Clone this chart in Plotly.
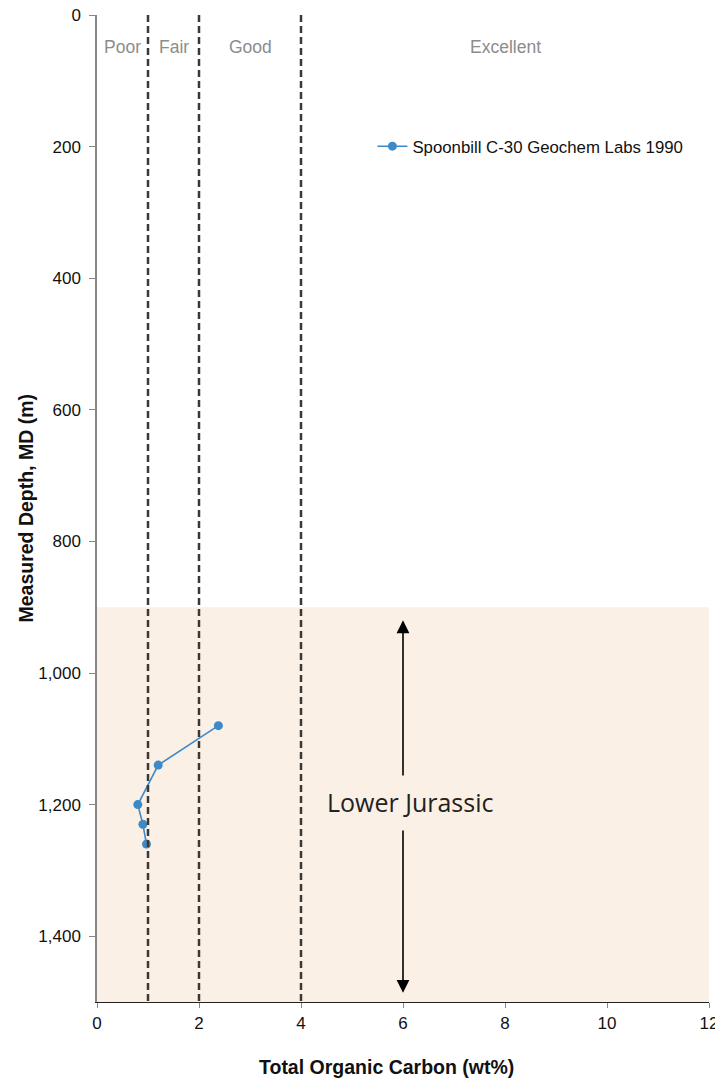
import plotly.graph_objects as go

# TOC samples, Spoonbill C-30 (Geochem Labs 1990)
toc = [2.38, 1.2, 0.8, 0.9, 0.97]
depth = [1080, 1140, 1200, 1230, 1260]

# quality cut-offs and class labels
cutoffs = [1, 2, 4]
class_names = ["Poor", "Fair", "Good", "Excellent"]
class_x = [0.5, 1.5, 3, 8]

zone_top = 900
zone_base = 1500
zone_name = "Lower Jurassic"

fig = go.Figure()

fig.add_shape(type="rect", xref="x", yref="y", x0=0, x1=12, y0=zone_top, y1=zone_base,
              fillcolor="#fbf0e6", line_width=0, layer="below")

for c in cutoffs:
    fig.add_shape(type="line", xref="x", yref="y", x0=c, x1=c, y0=0, y1=1500,
                  line=dict(color="#3c3834", width=2.5, dash="7px,4px"), layer="above")

fig.add_trace(go.Scatter(
    x=toc, y=depth, mode="lines+markers",
    name="Spoonbill C-30 Geochem Labs 1990",
    line=dict(color="#3c8ac8", width=1.6),
    marker=dict(color="#3c8ac8", size=9),
))

for name, cx in zip(class_names, class_x):
    fig.add_annotation(x=cx, y=48, xref="x", yref="y", text=name, showarrow=False,
                       font=dict(family="Liberation Sans", size=17.5, color="#8c8c8c"))

# zone arrow, broken around the label
fig.add_annotation(x=6, y=zone_top + 20, ax=6, ay=1158, xref="x", yref="y", axref="x", ayref="y",
                   text="", showarrow=True, arrowhead=2, arrowsize=1.6, arrowwidth=1.6,
                   arrowcolor="#000000")
fig.add_annotation(x=6, y=zone_base - 14, ax=6, ay=1237, xref="x", yref="y", axref="x", ayref="y",
                   text="", showarrow=True, arrowhead=2, arrowsize=1.6, arrowwidth=1.6,
                   arrowcolor="#000000")
fig.add_annotation(x=6, y=1196, xref="x", yref="y", text=zone_name, showarrow=False,
                   xshift=7, font=dict(family="Open Sans", size=25, color="#222222"))

# axis titles as annotations
fig.add_annotation(x=0.473, y=0, xref="paper", yref="paper", xanchor="center", yanchor="middle",
                   yshift=-65, text="<b>Total Organic Carbon (wt%)</b>", showarrow=False,
                   font=dict(family="Liberation Sans", size=19.5, color="#111111"))
fig.add_annotation(x=-0.1176, y=0.5, xref="paper", yref="paper", xanchor="center",
                   yanchor="middle", textangle=-90,
                   text="<b>Measured Depth, MD (m)</b>", showarrow=False,
                   font=dict(family="Liberation Sans", size=19.5, color="#111111"))

fig.update_xaxes(
    range=[0, 12], dtick=2, showgrid=False, zeroline=False,
    showline=True, linecolor="#222222", linewidth=1.2,
    ticks="outside", ticklen=5, tickcolor="#888888", ticklabeloverflow="allow",
    tickfont=dict(family="Liberation Sans", size=17, color="#111111"),
)
fig.update_yaxes(
    range=[1500, 0], dtick=200, tickformat=",", showgrid=False, zeroline=False,
    showline=True, linecolor="#888888", linewidth=1.5,
    ticks="outside", ticklen=6, tickcolor="#888888", ticklabelstandoff=5,
    ticklabeloverflow="allow",
    tickfont=dict(family="Liberation Sans", size=17, color="#111111"),
)

fig.update_layout(
    width=715, height=1076,
    margin=dict(l=89, r=14, t=7, b=82, autoexpand=False),
    plot_bgcolor="white", paper_bgcolor="white",
    showlegend=True,
    legend=dict(x=0.45, y=0.867, xanchor="left", yanchor="middle",
                bgcolor="rgba(0,0,0,0)",
                font=dict(family="Liberation Sans", size=16.8, color="#111111")),
)

fig.write_html("out.html")
